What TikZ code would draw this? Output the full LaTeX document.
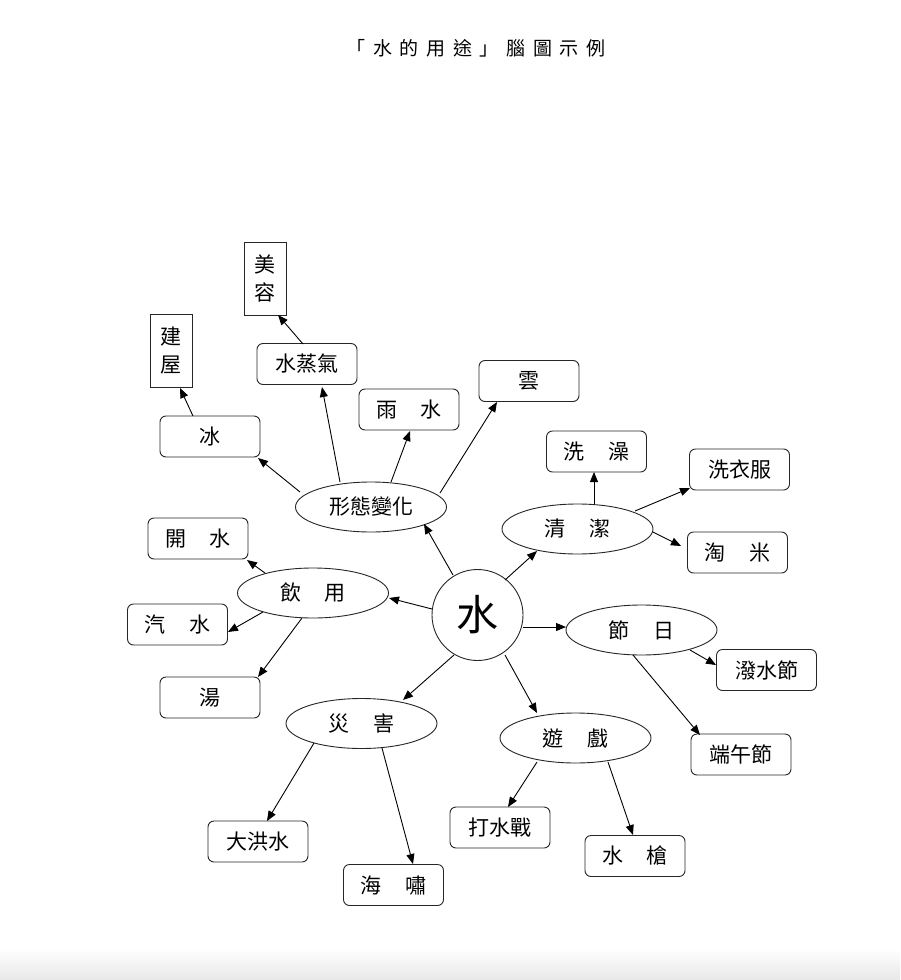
\documentclass[tikz,border=0pt]{standalone}
\usepackage{fontspec}
\setmainfont{Noto Sans CJK TC}
\usetikzlibrary{arrows.meta,shapes.geometric}
\begin{document}
\begin{tikzpicture}[x=1pt,y=-1pt,
  every node/.style={inner sep=0pt,outer sep=0pt},
  boxnode/.style={draw=black!85,line width=0.9pt,rounded corners=6pt,minimum width=100pt,minimum height=41pt,font=\fontsize{21}{24}\selectfont},
  vbox/.style={draw=black!85,line width=0.9pt,minimum width=42pt,minimum height=73pt,align=center,font=\fontsize{21}{28}\selectfont},
  ellnode/.style={draw=black!85,line width=0.9pt,ellipse,minimum width=151pt,minimum height=50pt,font=\fontsize{21}{24}\selectfont},
  hubnode/.style={draw=black!85,line width=0.9pt,circle,minimum size=91pt,font=\fontsize{42}{44}\selectfont},
  arr/.style={line width=0.9pt,-{Triangle[length=10pt,width=8pt]}}
]
\useasboundingbox (0,0) rectangle (900,980);
\fill[white] (0,0) rectangle (900,980);
\shade[top color=white,bottom color=black!9] (0,948) rectangle (900,980);

% title
\node (title) at (476,48) {\fontsize{19}{22}\selectfont 「\hspace{7.7pt}水\hspace{7.7pt}的\hspace{7.7pt}用\hspace{7.7pt}途\hspace{7.7pt}」\hspace{7.7pt}腦\hspace{7.7pt}圖\hspace{7.7pt}示\hspace{7.7pt}例};

% hub and categories
\node[hubnode] (shui) at (477.5,615) {水};
\node[ellnode] (xt) at (371,507) {形態變化};
\node[ellnode] (qj) at (577.5,529) {清\hspace{24pt}潔};
\node[ellnode] (jr) at (641.5,630) {節\hspace{24pt}日};
\node[ellnode] (yx) at (575.5,738) {遊\hspace{24pt}戲};
\node[ellnode] (zh) at (361.5,723.5) {災\hspace{24pt}害};
\node[ellnode] (yy) at (313,593) {飲\hspace{24pt}用};

% leaves
\node[vbox] (meirong) at (265,278.5) {美\\容};
\node[vbox] (jianwu) at (171,350.5) {建\\屋};
\node[boxnode] (zqq) at (307,364) {水蒸氣};
\node[boxnode] (ys) at (409,409.5) {雨\hspace{24pt}水};
\node[boxnode] (yun) at (529,381) {雲};
\node[boxnode] (bing) at (210,436.5) {冰};
\node[boxnode] (xz) at (596.5,451.5) {洗\hspace{24pt}澡};
\node[boxnode] (xyf) at (739.5,469.5) {洗衣服};
\node[boxnode] (tm) at (737.5,552.5) {淘\hspace{24pt}米};
\node[boxnode] (psj) at (766.5,670) {潑水節};
\node[boxnode] (dwj) at (741,754.5) {端午節};
\node[boxnode] (dsz) at (500,827.5) {打水戰};
\node[boxnode] (sq) at (635,856) {水\hspace{24pt}槍};
\node[boxnode] (dhs) at (258,841.5) {大洪水};
\node[boxnode] (hx) at (393.5,885) {海\hspace{24pt}嘯};
\node[boxnode] (ks) at (198,538.5) {開\hspace{24pt}水};
\node[boxnode] (qs) at (177.5,624.5) {汽\hspace{24pt}水};
\node[boxnode] (tang) at (210,697.5) {湯};

% arrows from hub
\draw[arr] ([shift={(-24.5,-40)}]shui.center) -- ([shift={(53,17)}]xt.center);
\draw[arr] ([shift={(27.5,-35)}]shui.center) -- ([shift={(-40.5,22)}]qj.center);
\draw[arr] ([shift={(45.5,12)}]shui.center) -- ([shift={(-75.5,-3)}]jr.center);
\draw[arr] ([shift={(27.5,40)}]shui.center) -- ([shift={(-38.5,-25)}]yx.center);
\draw[arr] ([shift={(-23.5,40)}]shui.center) -- ([shift={(41.5,-23.5)}]zh.center);
\draw[arr] ([shift={(-45.5,-6)}]shui.center) -- ([shift={(76,5)}]yy.center);

% 形態變化
\draw[arr] ([shift={(-71,-15)}]xt.center) -- ([shift={(48,21.5)}]bing.center);
\draw[arr] ([shift={(-31,-25)}]xt.center) -- ([shift={(15,23)}]zqq.center);
\draw[arr] ([shift={(-4,-20)}]zqq.center) -- ([shift={(13,36.5)}]meirong.center);
\draw[arr] ([shift={(-17,-20.5)}]bing.center) -- ([shift={(9,37.5)}]jianwu.center);
\draw[arr] ([shift={(20,-25)}]xt.center) -- ([shift={(1,21.5)}]ys.center);
\draw[arr] ([shift={(69,-14)}]xt.center) -- ([shift={(-32,21)}]yun.center);

% 清潔
\draw[arr] ([shift={(16.5,-25)}]qj.center) -- ([shift={(-2.5,20.5)}]xz.center);
\draw[arr] ([shift={(57.5,-18)}]qj.center) -- ([shift={(-49.5,18.5)}]xyf.center);
\draw[arr] ([shift={(75.5,3)}]qj.center) -- ([shift={(-56.5,-6.5)}]tm.center);

% 節日
\draw[arr] ([shift={(48.5,20)}]jr.center) -- ([shift={(-50.5,-5)}]psj.center);
\draw[arr] ([shift={(-8.5,25)}]jr.center) -- ([shift={(-41,-19.5)}]dwj.center);

% 遊戲
\draw[arr] ([shift={(-38.5,24)}]yx.center) -- ([shift={(8,-20.5)}]dsz.center);
\draw[arr] ([shift={(32.5,24)}]yx.center) -- ([shift={(-2,-21)}]sq.center);

% 災害
\draw[arr] ([shift={(-47.5,19.5)}]zh.center) -- ([shift={(9,-20.5)}]dhs.center);
\draw[arr] ([shift={(20.5,24.5)}]zh.center) -- ([shift={(19.5,-21)}]hx.center);

% 飲用
\draw[arr] ([shift={(-48,-20)}]yy.center) -- ([shift={(49,21.5)}]ks.center);
\draw[arr] ([shift={(-50,19)}]yy.center) -- ([shift={(50.5,7.5)}]qs.center);
\draw[arr] ([shift={(-11,25)}]yy.center) -- ([shift={(48,-20.5)}]tang.center);
\end{tikzpicture}
\end{document}
